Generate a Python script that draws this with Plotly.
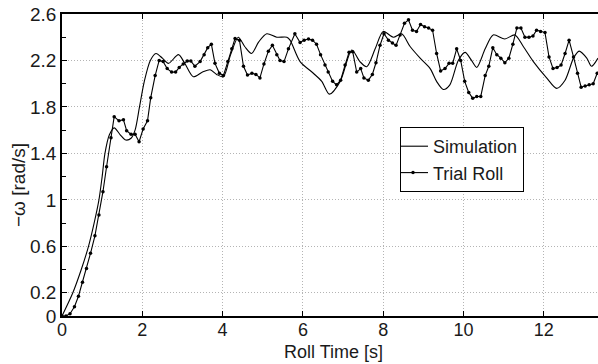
import plotly.graph_objects as go

# Simulation (smooth curve)
sim_t = [0.00, 0.27, 0.48, 0.66, 0.80, 0.92, 1.00, 1.07, 1.18, 1.30, 1.45, 1.59, 1.72, 1.82,
         1.93, 2.05, 2.20, 2.34, 2.50, 2.65, 2.90, 3.05, 3.27, 3.50, 3.69, 3.85, 4.02, 4.20,
         4.39, 4.55, 4.72, 4.90, 5.10, 5.35, 5.60, 5.68, 5.93, 6.26, 6.47, 6.66, 6.93, 7.22,
         7.42, 7.59, 7.80, 8.00, 8.25, 8.46, 8.67, 8.92, 9.17, 9.33, 9.50, 9.66, 9.87, 10.04,
         10.20, 10.33, 10.54, 10.74, 11.03, 11.28, 11.49, 11.74, 12.07, 12.32, 12.53, 12.74,
         12.88, 13.07, 13.19, 13.35]
sim_w = [0.00, 0.20, 0.40, 0.60, 0.80, 1.00, 1.20, 1.40, 1.56, 1.62, 1.56, 1.515, 1.53, 1.60,
         1.80, 2.02, 2.20, 2.26, 2.22, 2.175, 2.25, 2.18, 2.06, 2.10, 2.12, 2.08, 2.06, 2.25,
         2.40, 2.32, 2.26, 2.36, 2.43, 2.40, 2.40, 2.375, 2.19, 2.09, 2.02, 1.91, 2.02, 2.29,
         2.19, 2.146, 2.30, 2.45, 2.40, 2.43, 2.32, 2.22, 2.13, 2.02, 1.95, 1.99, 2.20, 2.27,
         2.20, 2.14, 2.30, 2.42, 2.385, 2.42, 2.32, 2.19, 2.05, 1.96, 2.03, 2.22,
         2.28, 2.22, 2.15, 2.22]

# Trial roll (sampled points)
trial_t = [0.00, 0.10, 0.20, 0.31, 0.41, 0.51, 0.61, 0.71, 0.82, 0.92, 1.02, 1.11, 1.22, 1.30,
           1.42, 1.53, 1.61, 1.72, 1.82, 1.92, 2.02, 2.13, 2.21, 2.32, 2.42, 2.52, 2.62, 2.73,
           2.83, 2.92, 3.02, 3.12, 3.21, 3.31, 3.44, 3.54, 3.63, 3.72, 3.81, 3.92, 4.02, 4.13,
           4.23, 4.31, 4.42, 4.52, 4.62, 4.73, 4.83, 4.93, 5.03, 5.14, 5.24, 5.35, 5.43, 5.53,
           5.64, 5.80, 5.93, 6.03, 6.14, 6.24, 6.34, 6.44, 6.55, 6.63, 6.74, 6.84, 6.94, 7.05,
           7.15, 7.24, 7.34, 7.44, 7.52, 7.63, 7.73, 7.82, 7.92, 8.02, 8.13, 8.23, 8.32, 8.42,
           8.53, 8.63, 8.73, 8.83, 8.93, 9.03, 9.13, 9.23, 9.33, 9.43, 9.54, 9.64, 9.73, 9.83,
           9.93, 10.03, 10.13, 10.23, 10.33, 10.43, 10.54, 10.63, 10.73, 10.83, 10.93, 11.03,
           11.13, 11.23, 11.33, 11.43, 11.53, 11.63, 11.73, 11.82, 11.92, 12.03, 12.13, 12.23,
           12.33, 12.43, 12.53, 12.63, 12.74, 12.84, 12.93, 13.03, 13.13, 13.23, 13.33]
trial_w = [0.00, 0.00, 0.02, 0.08, 0.17, 0.29, 0.41, 0.54, 0.69, 0.87, 1.07, 1.285, 1.535, 1.716,
           1.68, 1.69, 1.595, 1.564, 1.564, 1.50, 1.61, 1.68, 1.88, 2.07, 2.20, 2.19, 2.13, 2.10,
           2.10, 2.14, 2.17, 2.195, 2.195, 2.15, 2.19, 2.25, 2.31, 2.34, 2.175, 2.09, 2.07, 2.19,
           2.30, 2.39, 2.375, 2.15, 2.075, 2.09, 2.08, 2.05, 2.17, 2.28, 2.33, 2.25, 2.20, 2.19,
           2.30, 2.43, 2.355, 2.375, 2.385, 2.375, 2.34, 2.25, 2.16, 2.10, 2.02, 1.99, 2.03, 2.16,
           2.27, 2.275, 2.10, 2.13, 2.05, 2.03, 2.08, 2.18, 2.33, 2.43, 2.375, 2.35, 2.33, 2.42,
           2.52, 2.55, 2.46, 2.45, 2.51, 2.49, 2.48, 2.46, 2.26, 2.11, 2.13, 2.175, 2.175, 2.30,
           2.20, 2.02, 1.925, 1.875, 1.89, 1.89, 2.07, 2.15, 2.31, 2.25, 2.22, 2.18,
           2.22, 2.34, 2.48, 2.48, 2.40, 2.40, 2.41, 2.46, 2.45, 2.44, 2.23, 2.13,
           2.14, 2.16, 2.26, 2.375, 2.23, 2.09, 1.97, 1.98, 1.99, 2.00, 2.09]

x_ticks = [0, 2, 4, 6, 8, 10, 12]
y_ticks = [0, 0.2, 0.6, 1, 1.4, 1.8, 2.2, 2.6]
y_ticklabels = ["0", "0.2", "0.6", "1", "1.4", "1.8", "2.2", "2.6"]
y_minor = [0.4, 0.8, 1.2, 1.6, 2.0, 2.4]

FONT = "Liberation Sans"
TXT = "#1a1a1a"
GRID = "#b4b4b4"

fig = go.Figure()
fig.add_trace(go.Scatter(x=sim_t, y=sim_w, mode="lines", name="Simulation",
                         line=dict(color="black", width=1.1, shape="spline", smoothing=0.8)))
fig.add_trace(go.Scatter(x=trial_t, y=trial_w, mode="lines+markers", name="Trial Roll",
                         line=dict(color="black", width=1.1),
                         marker=dict(color="black", size=3.5)))

fig.update_layout(
    width=598, height=364,
    margin=dict(l=62, r=0, t=14, b=48),
    paper_bgcolor="white", plot_bgcolor="white",
    font=dict(family=FONT, size=18, color=TXT),
    showlegend=True,
    legend=dict(x=(400 - 62) / 536, y=(316 - 127) / 302, xanchor="left", yanchor="top",
                bgcolor="white", bordercolor="black", borderwidth=1,
                font=dict(family=FONT, size=18, color=TXT),
                tracegroupgap=0, itemwidth=30, indentation=-8),
    xaxis=dict(range=[0, 13.35], tickmode="array", tickvals=x_ticks,
               ticks="inside", ticklen=5, tickcolor="black", tickwidth=1,
               showline=True, linecolor="black", linewidth=1.5, mirror="ticks",
               showgrid=True, gridcolor=GRID, griddash="1px,2px", gridwidth=1,
               zeroline=False, tickfont=dict(family=FONT, size=18, color=TXT),
               ticklabelstandoff=-3),
    yaxis=dict(range=[0, 2.6], tickmode="array", tickvals=y_ticks, ticktext=y_ticklabels,
               ticks="inside", ticklen=5, tickcolor="black", tickwidth=1,
               showline=True, linecolor="black", linewidth=1.5, mirror=False,
               showgrid=True, gridcolor=GRID, griddash="1px,2px", gridwidth=1,
               zeroline=False, tickfont=dict(family=FONT, size=19, color=TXT),
               minor=dict(tickvals=y_minor, ticks="inside", ticklen=4, tickcolor="black",
                          showgrid=False)),
    annotations=[
        dict(text="Roll Time [s]", xref="paper", yref="paper",
             x=(333.5 - 62) / 536, y=(316 - 364) / 302, xanchor="center", yanchor="bottom",
             showarrow=False, font=dict(family=FONT, size=18, color=TXT)),
        dict(text="\u2212\u03c9 [rad/s]", xref="paper", yref="paper",
             x=(18 - 62) / 536, y=(316 - 185) / 302, xanchor="center", yanchor="middle",
             textangle=-90, showarrow=False, font=dict(family=FONT, size=19, color=TXT)),
    ],
)

fig.write_html("out.html")
